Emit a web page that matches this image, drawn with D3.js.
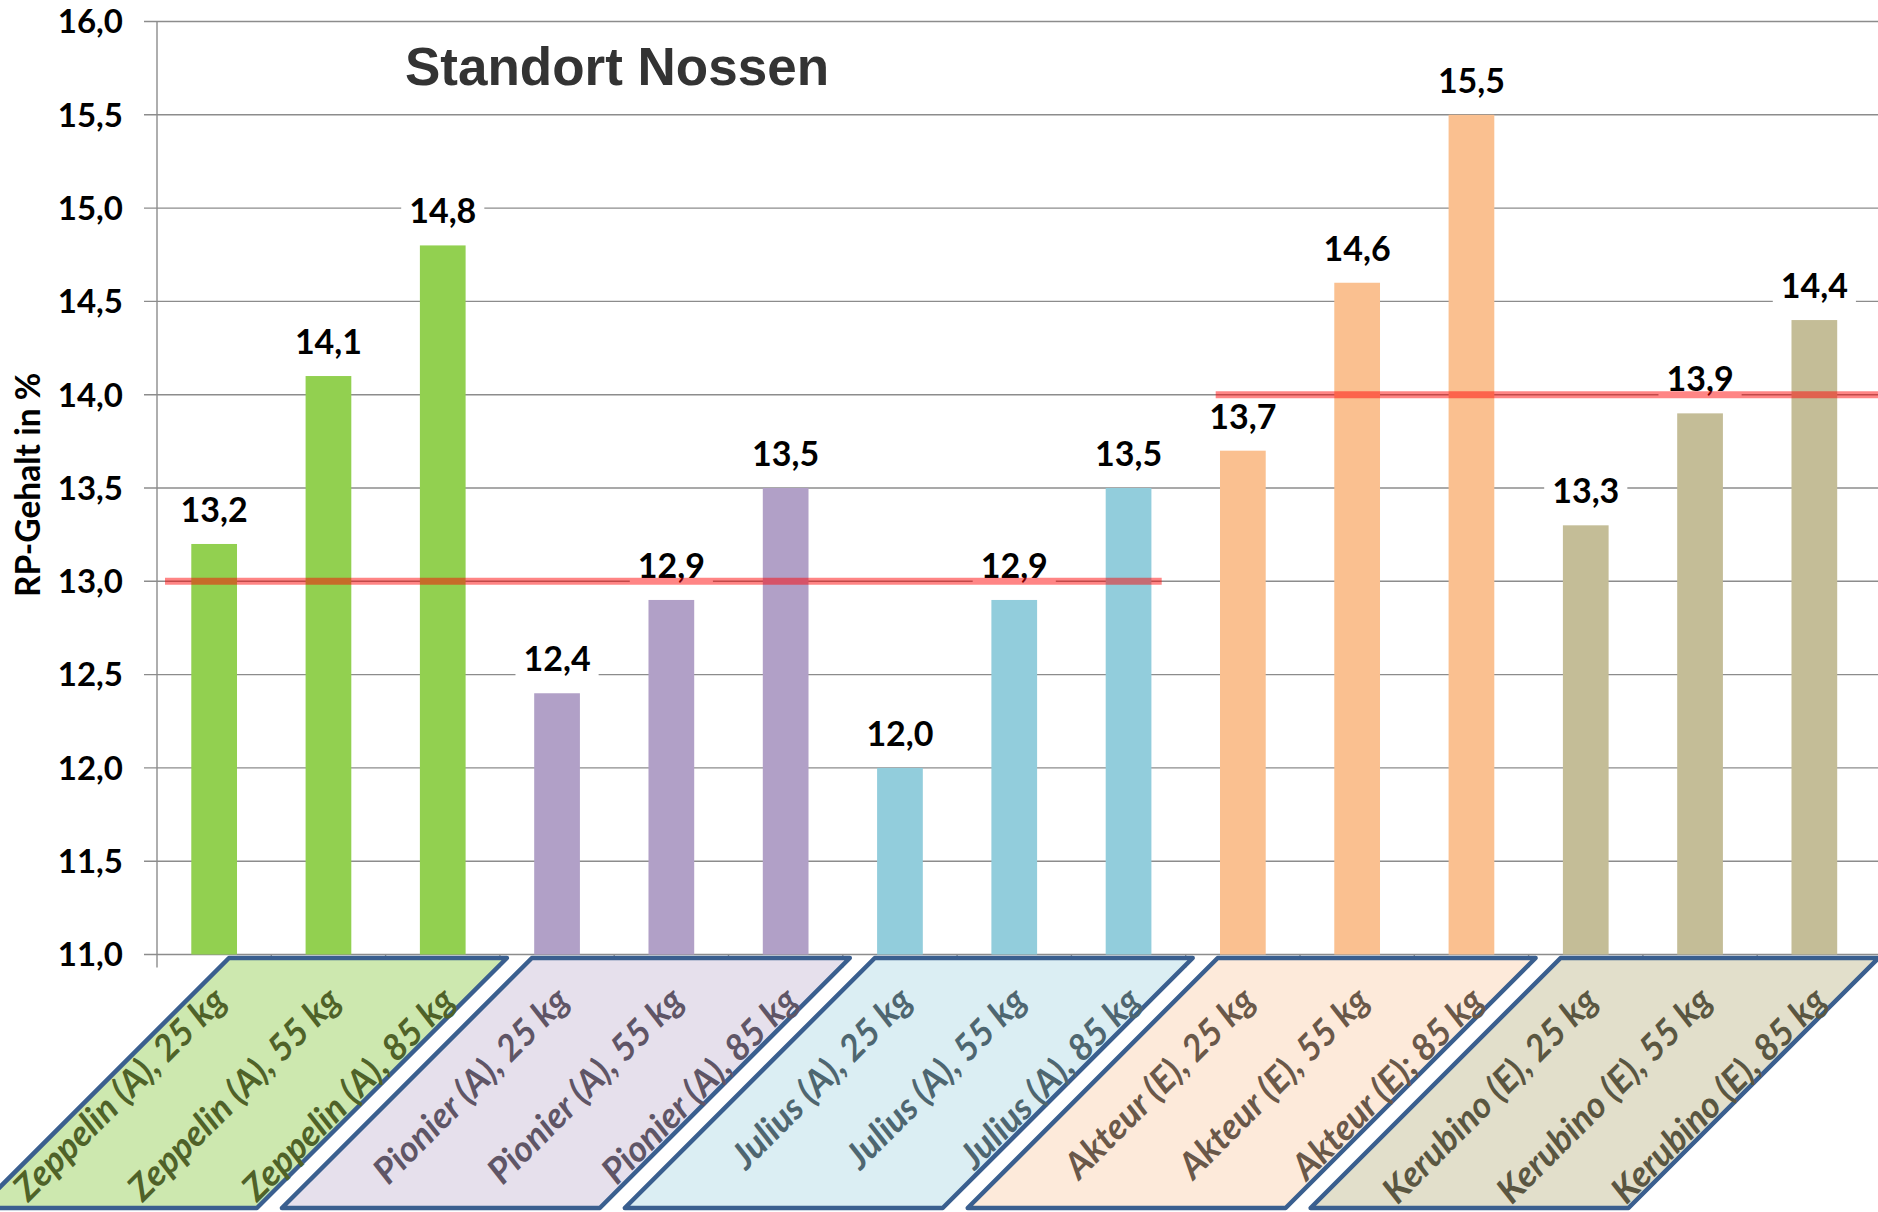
<!DOCTYPE html>
<html lang="de">
<head>
<meta charset="utf-8">
<title>Standort Nossen – RP-Gehalt</title>
<script src="https://cdn.jsdelivr.net/npm/d3@7"></script>
<style>
  html, body { margin: 0; padding: 0; background: #ffffff; }
  svg { display: block; }
</style>
</head>
<body>
<svg id="chart" width="1878" height="1212"></svg>
<script>
// Sorten (Gruppen) und Saatstärken
const varieties = ["Zeppelin (A)", "Pionier (A)", "Julius (A)", "Akteur (E)", "Kerubino (E)"];

// Kategorien der x-Achse, je drei pro Sorte
const categories = [
  "Zeppelin (A), 25 kg", "Zeppelin (A), 55 kg", "Zeppelin (A), 85 kg",
  "Pionier (A), 25 kg", "Pionier (A), 55 kg", "Pionier (A), 85 kg",
  "Julius (A), 25 kg", "Julius (A), 55 kg", "Julius (A), 85 kg",
  "Akteur (E), 25 kg", "Akteur (E), 55 kg", "Akteur (E); 85 kg",
  "Kerubino (E), 25 kg", "Kerubino (E), 55 kg", "Kerubino (E), 85 kg"
];

// RP-Gehalt in %
const rpValues = [13.2, 14.1, 14.8, 12.4, 12.9, 13.5, 12.0, 12.9, 13.5, 13.7, 14.6, 15.5, 13.3, 13.9, 14.4];

// Richtwerte (A-Weizen 13 %, E-Weizen 14 %) und die Sorten, für die sie gelten
const refValues = [13.0, 14.0];
const refVarieties = [["Zeppelin (A)", "Pionier (A)", "Julius (A)"], ["Akteur (E)", "Kerubino (E)"]];

// Achsenbeschriftung der y-Achse
const yTicks = [11.0, 11.5, 12.0, 12.5, 13.0, 13.5, 14.0, 14.5, 15.0, 15.5, 16.0];

// Farben je Sorte
const barColors   = ["#92D050", "#B1A0C7", "#92CDDC", "#FAC090", "#C4BD97"];
const boxFills    = ["#CDE8AF", "#E6E0EC", "#DBEEF3", "#FDEADA", "#E2DFCB"];
const labelColors = ["#4F6228", "#5F5566", "#4E6670", "#6A5849", "#5A5641"];

const svg = d3.select("#chart");
const W = 1878, H = 1212;
const plot = { left: 157, right: 1871.5, top: 21.5, bottom: 954.5 };

const fmt = d3.formatLocale({ decimal: ",", thousands: ".", grouping: [3], currency: ["", " €"] }).format(".1f");
const varietyOf = c => varieties.find(v => c.startsWith(v));

const x = d3.scaleBand().domain(categories).range([plot.left, plot.right]).padding(0);
const y = d3.scaleLinear().domain([11, 16]).range([plot.bottom, plot.top]);
const bw = x.bandwidth();
const barW = bw * 0.4;

const numFont = "Lato, 'Open Sans', sans-serif";

// Gitternetzlinien
svg.append("g")
  .selectAll("line")
  .data(yTicks)
  .join("line")
  .attr("x1", plot.left - 13).attr("x2", W)
  .attr("y1", d => y(d)).attr("y2", d => y(d))
  .attr("stroke", "#8C8C8C").attr("stroke-width", 1.4);

// y-Achse
svg.append("line")
  .attr("x1", plot.left).attr("x2", plot.left)
  .attr("y1", plot.top).attr("y2", plot.bottom + 13)
  .attr("stroke", "#8C8C8C").attr("stroke-width", 1.4);

// Teilstriche der Kategorienachse
svg.append("g")
  .selectAll("line")
  .data(categories.slice(1))
  .join("line")
  .attr("x1", d => x(d)).attr("x2", d => x(d))
  .attr("y1", plot.bottom).attr("y2", plot.bottom + 13)
  .attr("stroke", "#8C8C8C").attr("stroke-width", 1.4);

// y-Achsenbeschriftung
svg.append("g")
  .selectAll("text")
  .data(yTicks)
  .join("text")
  .attr("x", 123).attr("y", d => y(d))
  .attr("dy", "0.36em")
  .attr("text-anchor", "end")
  .attr("font-family", numFont).attr("font-weight", 700).attr("font-size", 33)
  .attr("fill", "#000")
  .text(d => fmt(d));

// Achsentitel
svg.append("text")
  .attr("transform", `translate(40,${y(13.5) - 3}) rotate(-90)`)
  .attr("text-anchor", "middle")
  .attr("font-family", numFont).attr("font-weight", 700).attr("font-size", 33.5)
  .attr("fill", "#000")
  .text("RP-Gehalt in %");

// Diagrammtitel
svg.append("text")
  .attr("x", 405).attr("y", 85)
  .attr("font-family", "'Liberation Sans', Arial, sans-serif").attr("font-weight", 700).attr("font-size", 53)
  .attr("fill", "#333333")
  .text("Standort Nossen");

// Rahmen (Parallelogramme) unter den Sortengruppen
const boxTop = 958, boxBottom = 1208, slant = boxBottom - boxTop;
const boxGroup = svg.append("g");
varieties.forEach((v, i) => {
  const cats = categories.filter(c => varietyOf(c) === v);
  const x0 = x(cats[0]) + (i === 0 ? 72 : 32);
  const x1 = x(cats[cats.length - 1]) + bw + 7;
  const pts = [[x0, boxTop], [x1, boxTop], [x1 - slant, boxBottom], [x0 - slant, boxBottom]];
  boxGroup.append("path")
    .attr("d", d3.line()(pts) + "Z")
    .attr("fill", boxFills[i])
    .attr("stroke", "#3A5F8F").attr("stroke-width", 4.5)
    .attr("stroke-linejoin", "round");
});

// Kategorienbeschriftung (schräg)
svg.append("g")
  .selectAll("text")
  .data(categories)
  .join("text")
  .attr("transform", d => `translate(${x(d) + bw / 2 - 4},${plot.bottom + 30}) rotate(-45)`)
  .attr("dy", "0.72em")
  .attr("text-anchor", "end")
  .attr("font-family", numFont).attr("font-weight", 700).attr("font-style", "italic").attr("font-size", 36)
  .attr("fill", d => labelColors[varieties.indexOf(varietyOf(d))])
  .text(d => d);

// Balken
svg.append("g")
  .selectAll("rect")
  .data(categories)
  .join("rect")
  .attr("x", d => x(d) + (bw - barW) / 2)
  .attr("width", barW)
  .attr("y", (d, i) => y(rpValues[i]))
  .attr("height", (d, i) => y(11) - y(rpValues[i]))
  .attr("fill", d => barColors[varieties.indexOf(varietyOf(d))]);

// Datenbeschriftungen mit weißem Hintergrund
const lbl = svg.append("g")
  .selectAll("g")
  .data(categories)
  .join("g")
  .attr("transform", (d, i) => `translate(${x(d) + bw / 2},${y(rpValues[i]) - 22})`);
lbl.append("rect")
  .attr("fill", "#ffffff");
lbl.append("text")
  .attr("text-anchor", "middle")
  .attr("font-family", numFont).attr("font-weight", 700).attr("font-size", 34)
  .attr("fill", "#000")
  .text((d, i) => fmt(rpValues[i]));
lbl.each(function () {
  const g = d3.select(this);
  const w = g.select("text").node().getComputedTextLength();
  g.select("rect")
    .attr("x", -w / 2 - 8).attr("width", w + 16)
    .attr("y", -30).attr("height", 42);
});

// Richtwertlinien (halbtransparent rot)
svg.append("g")
  .selectAll("line")
  .data(refValues)
  .join("line")
  .attr("x1", (d, i) => {
    const first = categories.find(c => varietyOf(c) === refVarieties[i][0]);
    return x(first) + (i === 0 ? 8 : 30);
  })
  .attr("x2", (d, i) => {
    const lastVar = refVarieties[i][refVarieties[i].length - 1];
    const last = categories.filter(c => varietyOf(c) === lastVar).pop();
    return i === refValues.length - 1 ? W : x(last) + bw - 24;
  })
  .attr("y1", d => y(d)).attr("y2", d => y(d))
  .attr("stroke", "rgba(255,0,0,0.48)").attr("stroke-width", 7);
</script>
</body>
</html>
